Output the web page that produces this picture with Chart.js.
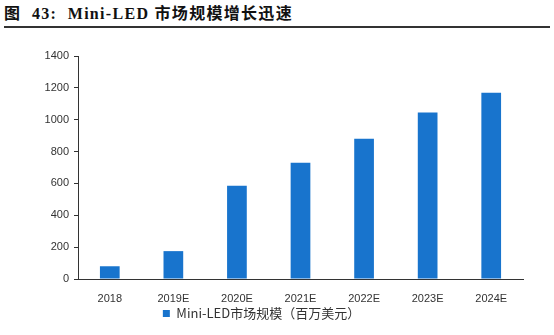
<!DOCTYPE html>
<html>
<head>
<meta charset="utf-8">
<script src="https://cdn.jsdelivr.net/npm/chart.js@4/dist/chart.umd.min.js"></script>
<style>
  html, body { margin: 0; padding: 0; background: #fff; }
  #wrap { position: relative; width: 554px; height: 335px; overflow: hidden; }
  #title {
    position: absolute; left: 4px; top: 4px; width: 546px;
    font-family: "Liberation Serif", "Noto Sans CJK SC", serif;
    font-weight: bold; font-size: 16px; color: #111;
    line-height: 20px; padding-bottom: 2px;
    border-bottom: 2px solid #333; letter-spacing: 1.3px;
  }
  #chart { position: absolute; left: 0; top: 0; }
</style>
</head>
<body>
<div id="wrap">
  <div id="title">图&nbsp; 43:&nbsp; Mini-LED 市场规模增长迅速</div>
  <canvas id="chart" width="554" height="335"></canvas>
</div>
<script>
// Mini-LED market size by year, million USD
const years = ['2018', '2019E', '2020E', '2021E', '2022E', '2023E', '2024E'];
const marketSize = [80, 175, 585, 730, 880, 1045, 1170];
const yTicks = [0, 200, 400, 600, 800, 1000, 1200, 1400];
const seriesName = 'Mini-LED市场规模（百万美元）';

const axisColor = '#333';
const barColor = '#1874cd';

const ctx = document.getElementById('chart').getContext('2d');
const chart = new Chart(ctx, {
    type: 'bar',
    data: {
        labels: years,
        datasets: [{
            label: seriesName,
            data: marketSize,
            backgroundColor: barColor,
            borderWidth: 0,
            categoryPercentage: 1,
            barPercentage: 0.31
        }]
    },
    options: {
        responsive: false,
        animation: false,
        layout: { padding: { top: 56, right: 31, bottom: 5, left: 0 } },
        plugins: {
            tooltip: { enabled: false },
            legend: {
                position: 'bottom',
                labels: {
                    boxWidth: 7,
                    boxHeight: 7,
                    padding: 4,
                    color: '#333',
                    font: { family: '"Noto Sans CJK SC", "DejaVu Sans", sans-serif', size: 13 }
                }
            }
        },
        scales: {
            x: {
                grid: { display: false },
                border: { display: true, color: axisColor, width: 1 },
                ticks: {
                    color: '#333',
                    padding: 5,
                    font: { family: '"Liberation Sans", Arial, sans-serif', size: 11 }
                },
                afterFit: (scale) => { scale.height = 24; }
            },
            y: {
                min: 0,
                max: 1400,
                afterBuildTicks: (scale) => {
                    scale.ticks = yTicks.map(v => ({ value: v }));
                },
                grid: {
                    display: true,
                    drawOnChartArea: false,
                    drawTicks: true,
                    tickLength: 4,
                    color: axisColor
                },
                border: { display: true, color: axisColor, width: 1 },
                ticks: {
                    color: '#333',
                    padding: 5,
                    font: { family: '"Liberation Sans", Arial, sans-serif', size: 11 },
                    callback: (v) => String(v)
                },
                afterFit: (scale) => { scale.width = 78; }
            }
        }
    }
});
</script>
</body>
</html>
